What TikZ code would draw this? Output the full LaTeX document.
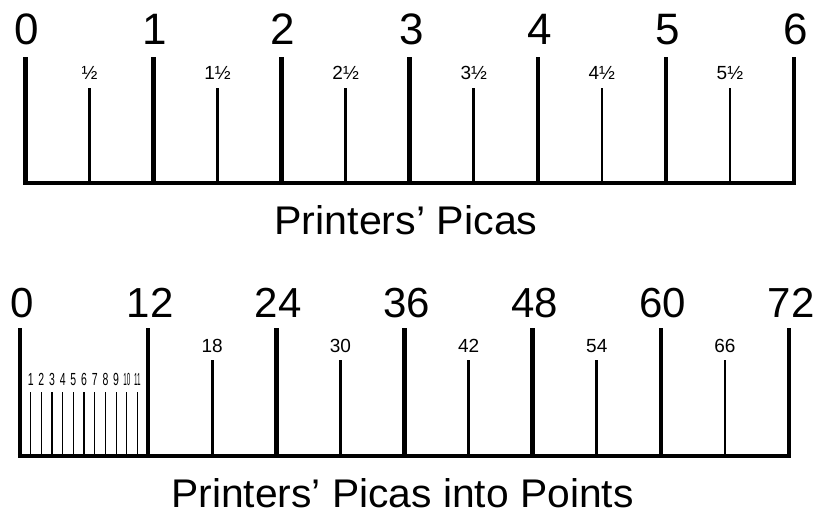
\documentclass[tikz,border=0pt]{standalone}
\usepackage{fontspec}
\setmainfont{Liberation Sans}
\begin{document}
\begin{tikzpicture}[x=1pt,y=-1pt,line cap=butt,
  major/.style={line width=4.5pt},
  half/.style={line width=2.6pt},
  minor/.style={line width=1.1pt},
  bignum/.style={anchor=base,inner sep=0pt,font=\fontsize{44}{44}\selectfont},
  bignumb/.style={anchor=base,inner sep=0pt,font=\fontsize{42}{42}\selectfont},
  halflab/.style={anchor=base,inner sep=0pt,font=\fontsize{19}{19}\selectfont},
  ptlab/.style={anchor=base,inner sep=0pt,font=\fontsize{19}{19}\selectfont},
  tinylab/.style={anchor=base,inner sep=0pt,font=\fontsize{17.5}{17.5}\selectfont},
  title/.style={anchor=base,inner sep=0pt,font=\fontsize{40}{40}\selectfont}]
\useasboundingbox (0,0) rectangle (817,514);

% ---------- top ruler: picas ----------
\draw[major] (23.25,183) -- (796.25,183);
\foreach \i in {0,...,6}{
  \draw[major] ({25.5+128.08*\i},57) -- ({25.5+128.08*\i},185.25);
  \node[bignum] (p\i) at ({27+128.08*\i},45) {\i};
}
\foreach \i/\t in {0/½,1/1½,2/2½,3/3½,4/4½,5/5½}{
  \draw[half] ({25.5+128.08*\i+64.04},88) -- ({25.5+128.08*\i+64.04},183);
  \node[halflab] (h\i) at ({25.5+128.08*\i+64.04},79) {\t};
}
\node[title] (t1) at (406,234.5) {\scalebox{1.03}[1]{Printers’ Picas}};

% ---------- bottom ruler: points ----------
\draw[major] (17.75,456) -- (791.25,456);
\foreach \i/\t in {0/0,1/12,2/24,3/36,4/48,5/60,6/72}{
  \draw[major] ({20+128.17*\i},328) -- ({20+128.17*\i},458.25);
  \node[bignumb] (q\i) at ({22+128.17*\i},317) {\t};
}
\foreach \i/\t in {0/18,1/30,2/42,3/54,4/66}{
  \draw[half] ({20+128.17*\i+192.25},360) -- ({20+128.17*\i+192.25},456);
  \node[ptlab] (r\i) at ({20+128.17*\i+192.25},352) {\t};
}
\foreach \k in {1,...,11}{
  \draw[minor] ({20+10.68*\k},392) -- ({20+10.68*\k},456);
}
\draw[line width=1.8pt] ({20+10.68*6},392) -- ({20+10.68*6},456);
\foreach \k in {1,...,9}{
  \node[tinylab] (s\k) at ({20+10.68*\k},385) {\scalebox{0.6}[1]{\k}};
}
\foreach \k in {10,11}{
  \node[tinylab] (s\k) at ({20+10.68*\k},385) {\scalebox{0.36}[1]{\k}};
}
\node[title] (t2) at (402.5,507) {\scalebox{1.02}[1]{Printers’ Picas into Points}};
\end{tikzpicture}
\end{document}
